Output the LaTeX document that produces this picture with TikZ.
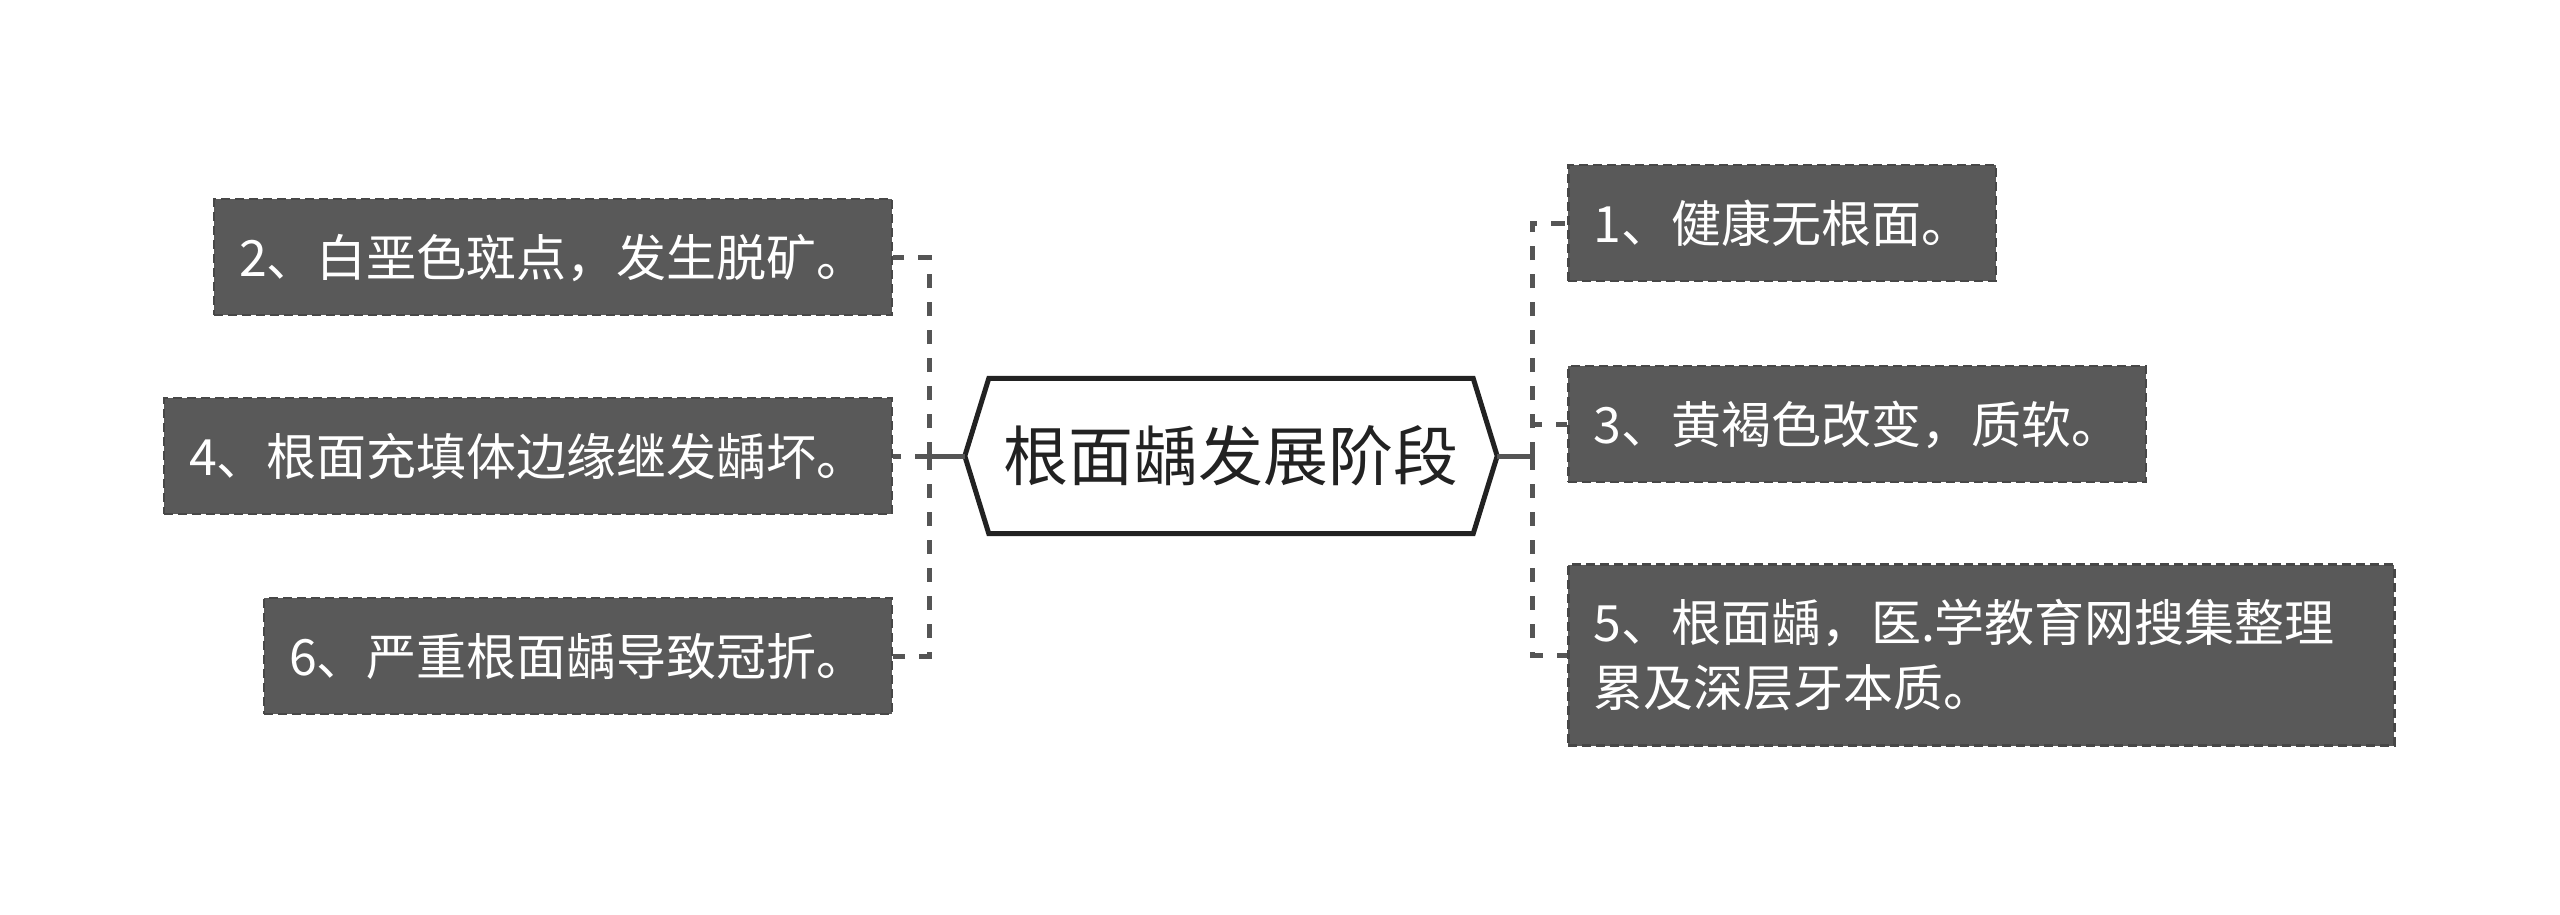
\documentclass[tikz,border=0pt]{standalone}
\usepackage{fontspec}
\newfontfamily\cjk{Noto Sans CJK SC}
\definecolor{boxgray}{HTML}{595959}
\definecolor{boxedge}{HTML}{474747}
\definecolor{linkgray}{HTML}{555555}
\definecolor{rootink}{HTML}{222222}
\begin{document}
\begin{tikzpicture}[x=1pt,y=1pt,
  leaf/.style={fill=boxgray, draw=boxedge, line width=2.5pt, dash pattern=on 9pt off 5pt,
    text=white, font=\cjk\fontsize{50}{65}\selectfont, inner xsep=25pt, inner ysep=0pt,
    minimum height=116pt, text height=44pt, text depth=6pt},
  link/.style={draw=linkgray, line width=5pt, dash pattern=on 14pt off 14pt},
  trunk/.style={draw=linkgray, line width=5pt},
  rootbox/.style={minimum width=532pt, minimum height=155pt, inner sep=0pt,
    font=\cjk\fontsize{65}{78}\selectfont, text=rootink, text height=55pt, text depth=6pt},
  hexline/.style={draw=rootink, line width=5pt, line join=miter}
]
\useasboundingbox (0,0) rectangle (2560,-914);

\node[rootbox] (root) at (1231,-456) {根面龋发展阶段};
\draw[hexline] (root.west) -- ([xshift=24pt]root.north west) -- ([xshift=-24pt]root.north east)
  -- (root.east) -- ([xshift=-24pt]root.south east) -- ([xshift=24pt]root.south west) -- cycle;

\coordinate (lj) at (929,-456);
\coordinate (rj) at (1532,-456);

\node[leaf, anchor=east] (b2) at (893,-257) {2、白垩色斑点，发生脱矿。};
\node[leaf, anchor=east] (b4) at (893,-456) {4、根面充填体边缘继发龋坏。};
\node[leaf, anchor=east] (b6) at (893,-656) {6、严重根面龋导致冠折。};

\node[leaf, anchor=west] (b1) at (1567,-223) {1、健康无根面。};
\node[leaf, anchor=west] (b3) at (1567,-424) {3、黄褐色改变，质软。};
\node[leaf, anchor=west, text width=776pt, align=left, minimum height=181pt, text depth=71pt] (b5) at (1567,-655)
  {5、根面龋，医.学教育网搜集整理\\累及深层牙本质。};

\draw[trunk] (root.west) -- (lj);
\draw[link] (lj) |- (b2.east);
\draw[link] (lj) -- (b4.east);
\draw[link] (lj) |- (b6.east);

\draw[trunk] (root.east) -- (rj);
\draw[link] (rj) |- (b1.west);
\draw[link] (rj) |- (b3.west);
\draw[link] (rj) |- (b5.west);
\end{tikzpicture}
\end{document}
